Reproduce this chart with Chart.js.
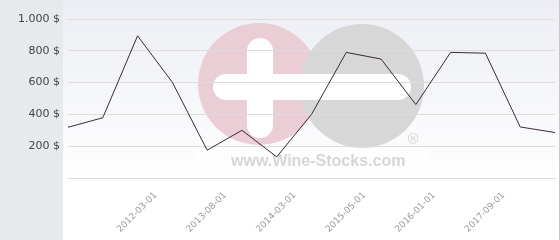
<!DOCTYPE html>
<html>
<head>
<meta charset="utf-8">
<script src="https://cdn.jsdelivr.net/npm/chart.js@4.4.0/dist/chart.umd.min.js"></script>
<style>
  html, body { margin: 0; padding: 0; background: #fff; }
  #wrap { width: 560px; height: 240px; }
</style>
</head>
<body>
<div id="wrap"><canvas id="chart" width="560" height="240"></canvas></div>
<script>
// categories (only every second date is printed on the axis)
var dates = ['', '', '2012-03-01', '', '2013-08-01', '', '2014-03-01', '',
             '2015-05-01', '', '2016-01-01', '', '2017-09-01', '', ''];
// price in $
var prices = [319, 379, 894, 602, 175, 300, 133, 400, 790, 748, 462, 790, 785, 321, 286];
var yTicks = [0, 200, 400, 600, 800, 1000];

// background panel, gradient and watermark
var backdrop = {
    id: 'backdrop',
    beforeDraw: function (c) {
        var ctx = c.ctx;
        ctx.save();
        ctx.fillStyle = '#e6eaed';
        ctx.fillRect(0, 0, 63, 240);
        var g = ctx.createLinearGradient(0, 0, 0, 185);
        g.addColorStop(0, '#eceef4');
        g.addColorStop(1, '#ffffff');
        ctx.fillStyle = g;
        ctx.fillRect(63, 0, 496, 180);
        ctx.fillStyle = '#ffffff';
        ctx.fillRect(63, 180, 496, 60);
        ctx.fillStyle = '#c8c8c8';
        ctx.fillRect(559, 0, 1, 240);

        // watermark
        ctx.fillStyle = 'rgba(255,255,255,0.6)';
        ctx.fillRect(197, 148, 230, 27);
        ctx.fillStyle = '#ebcdd6';
        ctx.beginPath(); ctx.arc(259, 84, 61, 0, Math.PI * 2); ctx.fill();
        ctx.fillStyle = '#d7d7d8';
        ctx.beginPath(); ctx.arc(362, 86, 62, 0, Math.PI * 2); ctx.fill();
        ctx.fillStyle = '#ffffff';
        ctx.beginPath(); ctx.roundRect(213, 74, 198, 26, 13); ctx.fill();
        ctx.beginPath(); ctx.roundRect(247, 38, 26, 100, 13); ctx.fill();
        ctx.fillStyle = '#d6d6d6';
        ctx.font = 'bold 16px "Liberation Sans", Arial, sans-serif';
        ctx.textBaseline = 'alphabetic';
        ctx.fillText('www.Wine-Stocks.com', 231, 166);
        ctx.font = '14px "DejaVu Sans", sans-serif';
        ctx.fillText('\u00ae', 406, 144);
        ctx.restore();
    }
};

new Chart(document.getElementById('chart'), {
    type: 'line',
    data: {
        labels: dates,
        datasets: [{
            data: prices,
            borderColor: '#3b2a32',
            borderWidth: 1,
            pointRadius: 0,
            tension: 0,
            fill: false
        }]
    },
    options: {
        responsive: false,
        animation: false,
        layout: {
            padding: { top: 19, right: 5, left: 0, bottom: 0 }
        },
        plugins: {
            legend: { display: false },
            tooltip: { enabled: false }
        },
        scales: {
            x: {
                offset: false,
                grid: { display: false, drawTicks: false },
                border: { display: true, color: '#dcdcdc' },
                afterFit: function (s) {
                    s.height = 62;
                    s.paddingLeft = 0;
                    s.paddingRight = 0;
                },
                ticks: {
                    autoSkip: false,
                    minRotation: 45,
                    maxRotation: 45,
                    labelOffset: 18,
                    padding: 12,
                    color: '#9a9a9a',
                    font: { family: '"DejaVu Sans", sans-serif', size: 9 }
                }
            },
            y: {
                min: 0,
                max: 1000,
                afterFit: function (s) {
                    s.width = 68;
                    s.paddingTop = 0;
                    s.paddingBottom = 0;
                },
                afterBuildTicks: function (s) {
                    s.ticks = yTicks.map(function (v) { return { value: v }; });
                },
                grid: { color: '#dcdcdc', drawTicks: false },
                border: { display: false },
                ticks: {
                    padding: 8,
                    color: '#444444',
                    font: { family: '"DejaVu Sans", sans-serif', size: 11 },
                    callback: function (v) {
                        if (v === 0) return '';
                        return v.toLocaleString('de-DE') + ' $';
                    }
                }
            }
        }
    },
    plugins: [backdrop]
});
</script>
</body>
</html>
